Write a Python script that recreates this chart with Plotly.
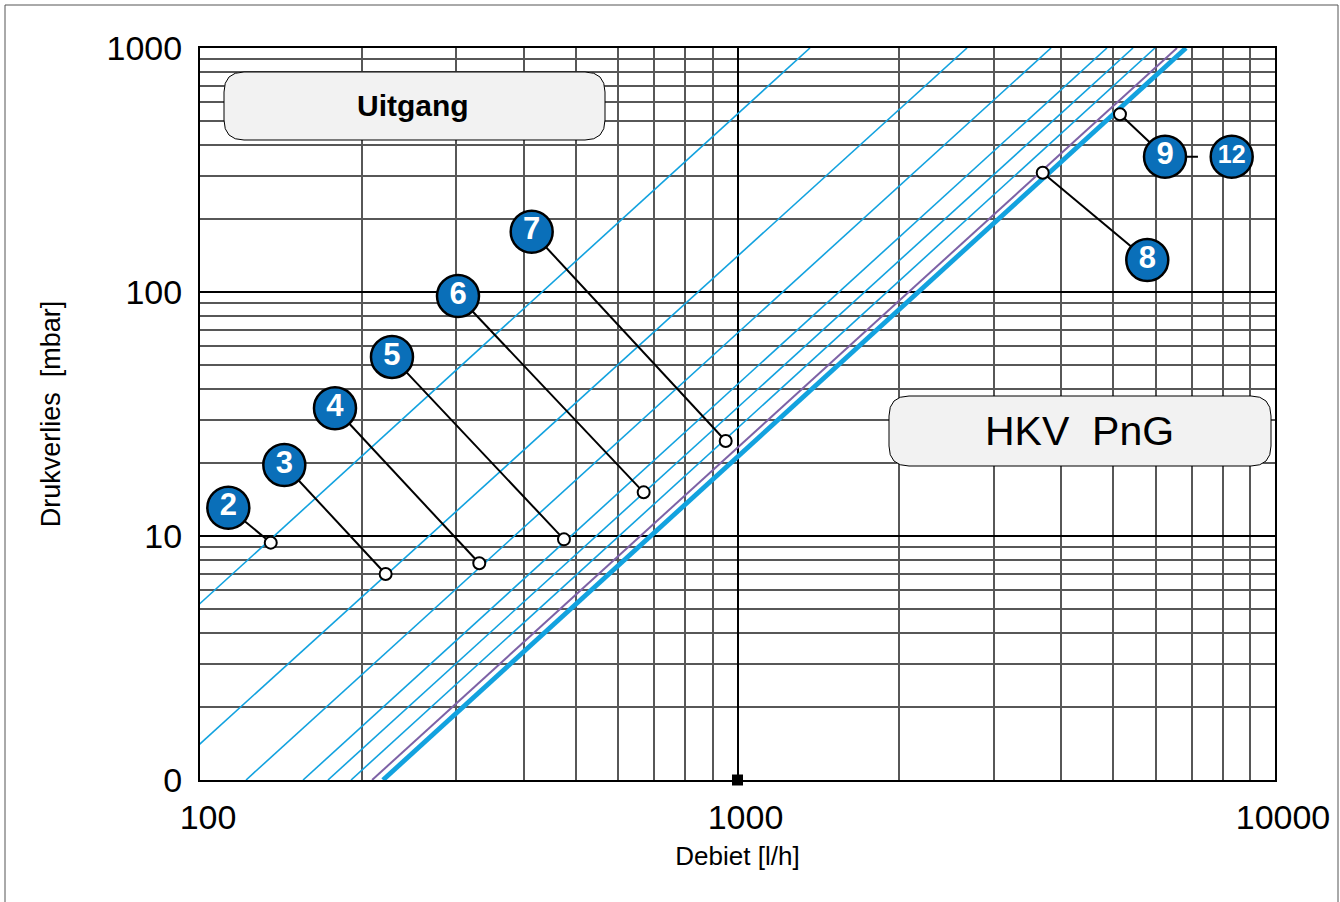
import plotly.graph_objects as go

# ---------------- data ----------------
line_settings = ["2", "3", "4", "5", "6", "7", "8", "9-12"]
flow_at_1mbar = [43.6, 84.3, 121.8, 155.5, 173.0, 191.0, 209.0, 219.0]        # l/h where line crosses 1 mbar
flow_at_1000mbar = [1364, 2673, 3831, 4868, 5443, 5980, 6572, 6830]           # l/h where line crosses 1000 mbar

point_flow = [135.4, 221.5, 330.8, 475.5, 669.0, 950.7, 3697, 5147]          # marked points on the lines
point_dp = [9.39, 6.99, 7.73, 9.69, 15.1, 24.5, 308, 535]

badge_labels = ["2", "3", "4", "5", "6", "7", "8", "9", "12"]
badge_flow = [112.9, 143.5, 178.3, 227.6, 302.0, 414.1, 5786, 6243, 8307]
badge_dp = [13.06, 19.54, 33.4, 54.2, 96.3, 176.6, 135.3, 358.5, 358.5]
link_end_flow = 7189   # end of the short 9 -> 12 connector

x_tick_vals = [100, 1000, 10000]
x_tick_text = ["100", "1000", "10000"]
y_tick_vals = [1, 10, 100, 1000]
y_tick_text = ["0", "10", "100", "1000"]
x_minor_vals = [200, 300, 400, 500, 600, 700, 800, 900,
                2000, 3000, 4000, 5000, 6000, 7000, 8000, 9000]
y_minor_vals = [2, 3, 4, 5, 6, 7, 8, 9,
                20, 30, 40, 50, 60, 70, 80, 90,
                200, 300, 400, 500, 600, 700, 800, 900]

# ---------------- styles ----------------
BLUE = "#12a2df"
PURPLE = "#7d62a6"
BADGE = "#0a6fb9"
FONT = "Liberation Sans, Arial, sans-serif"
line_colors = [BLUE] * 6 + [PURPLE, BLUE]
line_widths = [1.6] * 6 + [2.0, 4.8]

# plot area in pixels (for positioning the layout boxes)
L, R, T, B = 200, 1275, 48, 780
W, H = R - L, B - T


def px_x(p):
    return (p - L) / W


def px_y(p):
    return (B - p) / H


def rounded_box(x0p, y0p, x1p, y1p, r):
    x0, x1 = px_x(x0p), px_x(x1p)
    yt, yb = px_y(y0p), px_y(y1p)
    rx, ry = r / W, r / H
    return (f"M {x0+rx},{yt} L {x1-rx},{yt} Q {x1},{yt} {x1},{yt-ry} "
            f"L {x1},{yb+ry} Q {x1},{yb} {x1-rx},{yb} L {x0+rx},{yb} "
            f"Q {x0},{yb} {x0},{yb+ry} L {x0},{yt-ry} Q {x0},{yt} {x0+rx},{yt} Z")


fig = go.Figure()

# characteristic lines
for name, q1, q2, c, w in zip(line_settings, flow_at_1mbar, flow_at_1000mbar, line_colors, line_widths):
    fig.add_trace(go.Scatter(x=[q1, q2], y=[1, 1000], mode="lines",
                             line=dict(color=c, width=w), name=name,
                             hoverinfo="skip", showlegend=False))

# leader lines from badges to the points
lx, ly = [], []
for i in range(len(point_flow)):
    lx += [badge_flow[i], point_flow[i], None]
    ly += [badge_dp[i], point_dp[i], None]
lx += [badge_flow[7], link_end_flow, None]
ly += [badge_dp[7], badge_dp[7], None]
fig.add_trace(go.Scatter(x=lx, y=ly, mode="lines", line=dict(color="black", width=2),
                         hoverinfo="skip", showlegend=False))

# small open circles on the lines
fig.add_trace(go.Scatter(x=point_flow, y=point_dp, mode="markers",
                         marker=dict(symbol="circle", size=12, color="white",
                                     line=dict(color="black", width=2)),
                         showlegend=False))

# numbered badges
fig.add_trace(go.Scatter(
    x=badge_flow, y=badge_dp, mode="markers+text", text=badge_labels,
    textposition="middle center",
    textfont=dict(family=FONT, color="white",
                  size=[31] * 8 + [25], weight="bold"),
    marker=dict(symbol="circle", size=42, color=BADGE,
                line=dict(color="black", width=2.5)),
    cliponaxis=False, showlegend=False))

# small black square on the x axis at 1000
fig.add_trace(go.Scatter(x=[1000], y=[1], mode="markers",
                         marker=dict(symbol="square", size=11, color="black"),
                         cliponaxis=False, showlegend=False, hoverinfo="skip"))

shapes = [
    dict(type="path", xref="paper", yref="paper", path=rounded_box(224, 72, 605, 140, 20),
         fillcolor="#f2f2f2", line=dict(color="black", width=1), layer="above"),
    dict(type="path", xref="paper", yref="paper", path=rounded_box(889, 396, 1271, 466, 20),
         fillcolor="#f2f2f2", line=dict(color="black", width=1), layer="above"),
    dict(type="rect", xref="paper", yref="paper",
         x0=px_x(5), x1=px_x(1338), y0=px_y(906), y1=px_y(5),
         line=dict(color="#555555", width=1), fillcolor="rgba(0,0,0,0)", layer="below"),
]

annotations = [
    dict(xref="paper", yref="paper", x=px_x(413), y=px_y(106), text="<b>Uitgang</b>",
         showarrow=False, font=dict(family=FONT, size=30, color="black"),
         xanchor="center", yanchor="middle"),
    dict(xref="paper", yref="paper", x=px_x(1079), y=px_y(431), text="HKV\u00a0\u00a0PnG",
         showarrow=False, font=dict(family=FONT, size=41, color="black"),
         xanchor="center", yanchor="middle"),
]

fig.update_layout(
    width=1340, height=902,
    margin=dict(l=L, r=1340 - R, t=T, b=902 - B),
    paper_bgcolor="white", plot_bgcolor="white",
    font=dict(family=FONT, color="black"),
    shapes=shapes, annotations=annotations,
    xaxis=dict(
        type="log", range=[2, 4], tickmode="array", tickvals=x_tick_vals, ticktext=x_tick_text,
        ticks="", tickfont=dict(size=34), ticklabelstandoff=6, ticklabelshift=8,
        showgrid=True, gridcolor="black", gridwidth=2,
        minor=dict(tickmode="array", tickvals=x_minor_vals, showgrid=True,
                   gridcolor="#575757", gridwidth=1.6, ticks=""),
        showline=True, linecolor="black", linewidth=2, mirror=True,
        title=dict(text="Debiet [l/h]", font=dict(size=26), standoff=12),
        automargin=False,
    ),
    yaxis=dict(
        type="log", range=[0, 3], tickmode="array", tickvals=y_tick_vals, ticktext=y_tick_text,
        ticks="", tickfont=dict(size=34), ticklabelstandoff=9,
        showgrid=True, gridcolor="black", gridwidth=2,
        minor=dict(tickmode="array", tickvals=y_minor_vals, showgrid=True,
                   gridcolor="#575757", gridwidth=1.6, ticks=""),
        showline=True, linecolor="black", linewidth=2, mirror=True,
        title=dict(text="Drukverlies \u00a0[mbar]", font=dict(size=27), standoff=38),
        automargin=False,
    ),
)

fig.write_html("out.html", config={"displayModeBar": False},
               post_script="document.body.style.margin='0px';document.body.style.overflow='hidden';")
